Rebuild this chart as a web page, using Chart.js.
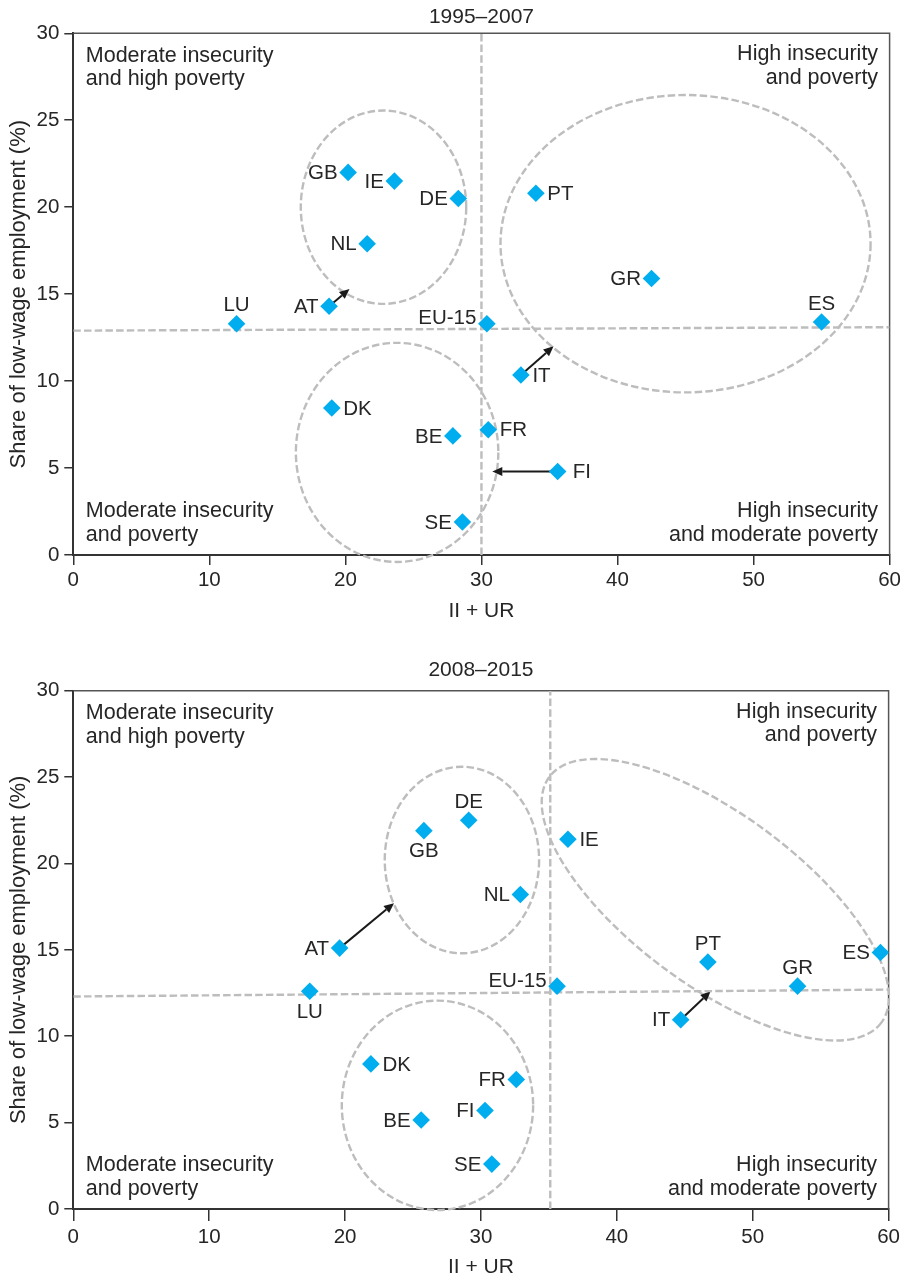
<!DOCTYPE html>
<html>
<head>
<meta charset="utf-8">
<script src="https://cdn.jsdelivr.net/npm/chart.js@4.4.1/dist/chart.umd.min.js"></script>
<style>
  html, body { margin: 0; padding: 0; background: #ffffff; }
  #wrap { position: relative; width: 904px; height: 1277px; }
  canvas { position: absolute; left: 0; }
  #c1995 { top: 0; }
  #c2008 { top: 640px; }
</style>
</head>
<body>
<div id="wrap">
  <canvas id="c1995" width="904" height="640"></canvas>
  <canvas id="c2008" width="904" height="637"></canvas>
</div>
<script>
// ---------- 1995–2007 ----------
const countries1995  = ['GB', 'IE', 'DE', 'NL', 'AT', 'LU', 'PT', 'GR', 'ES', 'EU-15', 'IT', 'FR', 'FI', 'SE', 'DK', 'BE'];
const insecurity1995 = [20.2, 23.6, 28.3, 21.6, 18.8, 12.0, 34.0, 42.5, 55.0, 30.4, 32.9, 30.5, 35.6, 28.6, 19.0, 27.9];
const lowWage1995    = [22.0, 21.5, 20.5, 17.9, 14.3, 13.3, 20.8, 15.9, 13.4, 13.3, 10.35, 7.2, 4.8, 1.9, 8.45, 6.85];
// EU-15 reference lines (vertical at II+UR, horizontal low-wage share from x=0 to x=60)
const euInsecurity1995 = 30;
const euLowWage1995    = [12.9, 13.1];
// direction of change: [country, II+UR, low-wage share] the arrow points to
const shifts1995 = [['AT', 20.3, 15.3], ['IT', 35.3, 12.0], ['FI', 30.8, 4.8]];

// ---------- 2008–2015 ----------
const countries2008  = ['GB', 'DE', 'IE', 'NL', 'AT', 'ES', 'PT', 'GR', 'EU-15', 'IT', 'LU', 'DK', 'BE', 'FR', 'FI', 'SE'];
const insecurity2008 = [25.8, 29.1, 36.4, 32.9, 19.6, 59.4, 46.7, 53.3, 35.6, 44.7, 17.4, 21.9, 25.6, 32.6, 30.3, 30.8];
const lowWage2008    = [21.9, 22.5, 21.4, 18.2, 15.1, 14.85, 14.3, 12.9, 12.9, 10.95, 12.6, 8.4, 5.15, 7.5, 5.7, 2.6];
const euInsecurity2008 = 35.1;
const euLowWage2008    = [12.3, 12.7];
const shifts2008 = [['AT', 23.6, 17.7], ['IT', 46.9, 12.6]];

// axis ticks
const xTicks = [0, 10, 20, 30, 40, 50, 60];
const yTicks = [0, 5, 10, 15, 20, 25, 30];

const quadrantText = {
  tl: ['Moderate insecurity', 'and high poverty'],
  tr: ['High insecurity', 'and poverty'],
  bl: ['Moderate insecurity', 'and poverty'],
  br: ['High insecurity', 'and moderate poverty']
};

const FONT = "'Liberation Sans', Arial, Helvetica, sans-serif";
const INK = '#262626';
const DASH = '#bdbdbd';
const DASH_PATTERN = [7.5, 3.2];
const CYAN = '#00aeef';

// where each country name sits relative to its marker
const labelSide1995 = ['l', 'l', 'l', 'l', 'l', 't', 'r', 'l', 't', 'lt', 'r', 'r', 'rr', 'l', 'r', 'l'];
const labelSide2008 = ['b', 't', 'r', 'l', 'l', 'l', 't', 't', 'lt', 'l', 'b', 'r', 'l', 'l', 'l', 'l'];

// country groupings, in axis units (rx along x units, ry along y units, rot in degrees)
const groups1995 = [
  { cx: 22.8, cy: 20.0, rx: 6.08, ry: 5.56 },
  { cx: 45.0, cy: 17.9, rx: 13.6, ry: 8.55 },
  { cx: 23.8, cy: 5.9,  rx: 7.44, ry: 6.3 }
];
const groups2008 = [
  { cx: 28.6, cy: 20.2, rx: 5.68, ry: 5.4 },
  { cx: 26.8, cy: 6.0,  rx: 7.04, ry: 6.06 },
  { cx: 47.25, cy: 17.9, rx: 15.2, ry: 4.95, rot: 36.5 }
];

Chart.defaults.font.family = FONT;
Chart.defaults.color = INK;

function drawArrow(ctx, x0, y0, x1, y1) {
  const ang = Math.atan2(y1 - y0, x1 - x0);
  const head = 10, half = 4.5;
  const bx = x1 - head * Math.cos(ang), by = y1 - head * Math.sin(ang);
  ctx.strokeStyle = '#1a1a1a';
  ctx.fillStyle = '#1a1a1a';
  ctx.lineWidth = 2;
  ctx.beginPath();
  ctx.moveTo(x0, y0);
  ctx.lineTo(bx, by);
  ctx.stroke();
  ctx.beginPath();
  ctx.moveTo(x1, y1);
  ctx.lineTo(bx - half * Math.sin(ang), by + half * Math.cos(ang));
  ctx.lineTo(bx + half * Math.sin(ang), by - half * Math.cos(ang));
  ctx.closePath();
  ctx.fill();
}

const decor = {
  id: 'decor',
  beforeDatasetsDraw(chart, args, opts) {
    const { ctx, chartArea: a, scales: { x, y } } = chart;
    ctx.save();
    // top and right frame
    ctx.strokeStyle = '#555555';
    ctx.lineWidth = 1.5;
    ctx.beginPath();
    ctx.moveTo(a.left, a.top);
    ctx.lineTo(a.right, a.top);
    ctx.lineTo(a.right, a.bottom);
    ctx.stroke();

    // group outlines
    const ux = x.getPixelForValue(1) - x.getPixelForValue(0);
    const uy = y.getPixelForValue(0) - y.getPixelForValue(1);
    ctx.strokeStyle = DASH;
    ctx.lineWidth = 2.4;
    ctx.setLineDash(DASH_PATTERN);
    opts.groups.forEach(g => {
      ctx.beginPath();
      ctx.ellipse(x.getPixelForValue(g.cx), y.getPixelForValue(g.cy),
        g.rx * ux, g.ry * uy, (g.rot || 0) * Math.PI / 180, 0, Math.PI * 2);
      ctx.stroke();
    });
    ctx.setLineDash([]);

    // change arrows
    const meta = chart.getDatasetMeta(0);
    opts.shifts.forEach(([code, tx, ty]) => {
      const i = opts.countries.indexOf(code);
      const pt = meta.data[i];
      drawArrow(ctx, pt.x, pt.y, x.getPixelForValue(tx), y.getPixelForValue(ty));
    });
    ctx.restore();
  },
  afterDraw(chart, args, opts) {
    const { ctx, chartArea: a } = chart;
    ctx.save();
    ctx.fillStyle = INK;
    const cx = (a.left + a.right) / 2;

    // panel title
    ctx.font = `21px ${FONT}`;
    ctx.textAlign = 'center';
    ctx.textBaseline = 'alphabetic';
    ctx.fillText(opts.title, cx, a.top - opts.titleGap);

    // x axis title
    ctx.font = `21px ${FONT}`;
    ctx.fillText('II + UR', cx, a.bottom + opts.xTitleGap);

    // y axis title
    ctx.save();
    ctx.font = `22px ${FONT}`;
    ctx.translate(25, (a.top + a.bottom) / 2);
    ctx.rotate(-Math.PI / 2);
    ctx.fillText('Share of low-wage employment (%)', 0, 0);
    ctx.restore();

    // quadrant captions
    ctx.font = `21.5px ${FONT}`;
    ctx.textAlign = 'left';
    ctx.fillText(quadrantText.tl[0], a.left + 12.5, a.top + 28.5);
    ctx.fillText(quadrantText.tl[1], a.left + 12.5, a.top + 52);
    ctx.fillText(quadrantText.bl[0], a.left + 12.5, a.bottom - 38);
    ctx.fillText(quadrantText.bl[1], a.left + 12.5, a.bottom - 14.5);
    ctx.textAlign = 'right';
    ctx.fillText(quadrantText.tr[0], a.right - 11.5, a.top + 27);
    ctx.fillText(quadrantText.tr[1], a.right - 11.5, a.top + 50.5);
    ctx.fillText(quadrantText.br[0], a.right - 11.5, a.bottom - 38);
    ctx.fillText(quadrantText.br[1], a.right - 11.5, a.bottom - 14.5);

    // country names
    ctx.font = `20.5px ${FONT}`;
    ctx.textBaseline = 'middle';
    const meta = chart.getDatasetMeta(0);
    meta.data.forEach((pt, i) => {
      const side = opts.sides[i];
      let tx = pt.x, ty = pt.y + 1, align = 'center';
      if (side === 'l') { tx -= 10.5; align = 'right'; }
      else if (side === 'lt') { tx -= 10.5; ty -= 6; align = 'right'; }
      else if (side === 'r') { tx += 11.5; align = 'left'; }
      else if (side === 'rr') { tx += 15; align = 'left'; }
      else if (side === 't') { ty -= 19; }
      else if (side === 'b') { ty += 20; }
      ctx.textAlign = align;
      ctx.fillText(opts.countries[i], tx, ty);
    });
    ctx.restore();
  }
};

function makePanel(id, spec) {
  const points = spec.countries.map((c, i) => ({ x: spec.xs[i], y: spec.ys[i] }));
  const refStyle = {
    showLine: true, pointRadius: 0, pointHoverRadius: 0,
    borderColor: DASH, borderWidth: 2.4, borderDash: DASH_PATTERN, fill: false
  };
  return new Chart(document.getElementById(id), {
    type: 'scatter',
    data: {
      datasets: [
        {
          label: spec.title,
          data: points,
          pointStyle: 'rectRot',
          pointRadius: 8.8,
          pointHoverRadius: 8.8,
          pointBackgroundColor: CYAN,
          pointBorderWidth: 0,
          order: 0
        },
        Object.assign({ data: [{ x: spec.euX, y: 0 }, { x: spec.euX, y: 30 }], order: 1 }, refStyle),
        Object.assign({ data: [{ x: 0, y: spec.euY[0] }, { x: 60, y: spec.euY[1] }], order: 1 }, refStyle)
      ]
    },
    options: {
      responsive: false,
      animation: false,
      events: [],
      layout: { padding: { top: spec.padTop, right: 14, left: 0, bottom: 0 } },
      plugins: {
        legend: { display: false },
        tooltip: { enabled: false },
        decor: {
          title: spec.title, titleGap: spec.titleGap, xTitleGap: spec.xTitleGap,
          countries: spec.countries, sides: spec.sides,
          groups: spec.groups, shifts: spec.shifts
        }
      },
      scales: {
        x: {
          type: 'linear', min: 0, max: 60,
          afterBuildTicks: s => { s.ticks = xTicks.map(v => ({ value: v })); },
          afterFit: s => { s.height = spec.xAxisHeight; },
          ticks: { font: { size: 20.5 }, color: INK, padding: spec.xTickPad },
          grid: { drawOnChartArea: false, drawTicks: true, tickLength: spec.xTickLen, color: '#333333', lineWidth: 1.5 },
          border: { display: true, color: '#333333', width: 2 }
        },
        y: {
          type: 'linear', min: 0, max: 30,
          afterBuildTicks: s => { s.ticks = yTicks.map(v => ({ value: v })); },
          afterFit: s => { s.width = 73.3; },
          ticks: { font: { size: 20.5 }, color: INK, padding: 5 },
          grid: { drawOnChartArea: false, drawTicks: true, tickLength: 9, color: '#333333', lineWidth: 1.5 },
          border: { display: true, color: '#333333', width: 2 }
        }
      }
    },
    plugins: [decor]
  });
}

makePanel('c1995', {
  title: '1995–2007', titleGap: 10, xTitleGap: 61.7,
  countries: countries1995, xs: insecurity1995, ys: lowWage1995, sides: labelSide1995,
  euX: euInsecurity1995, euY: euLowWage1995,
  groups: groups1995, shifts: shifts1995,
  padTop: 33.3, xAxisHeight: 85, xTickLen: 10, xTickPad: 3
});

makePanel('c2008', {
  title: '2008–2015', titleGap: 14.7, xTitleGap: 64,
  countries: countries2008, xs: insecurity2008, ys: lowWage2008, sides: labelSide2008,
  euX: euInsecurity2008, euY: euLowWage2008,
  groups: groups2008, shifts: shifts2008,
  padTop: 50.7, xAxisHeight: 68, xTickLen: 12, xTickPad: 4
});
</script>
</body>
</html>
